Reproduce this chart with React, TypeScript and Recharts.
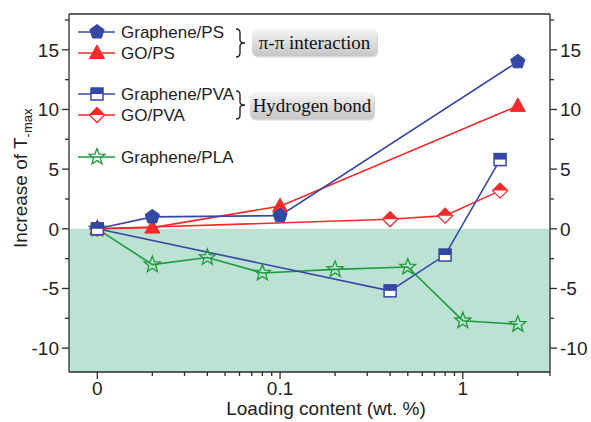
import React from 'react';
import {
  LineChart,
  Line,
  XAxis,
  YAxis,
  ReferenceArea,
  ReferenceLine,
  Legend,
} from 'recharts';

// 横軸 (wt. %) — 0 は対数軸の 0.01 の位置に置く
const psLoading = [0, 0.02, 0.1, 2];
const pvaLoading = [0, 0.4, 0.8, 1.6];
const plaLoading = [0, 0.02, 0.04, 0.08, 0.2, 0.5, 1, 2];

// 縦軸: Increase of T-max
const graphenePS = [0, 1.0, 1.1, 14.0];
const goPS = [0, 0.1, 1.9, 10.3];
const graphenePVA = [0, -5.2, -2.2, 5.8];
const goPVA = [0, 0.8, 1.1, 3.2];
const graphenePLA = [0, -3.0, -2.4, -3.7, -3.4, -3.2, -7.7, -8.0];

const xMajorTicks = [0.01, 0.1, 1];
const xMajorLabels = ['0', '0.1', '1'];
const xMinorTicks = [
  0.02, 0.03, 0.04, 0.05, 0.06, 0.07, 0.08, 0.09,
  0.2, 0.3, 0.4, 0.5, 0.6, 0.7, 0.8, 0.9, 2, 3,
];
const yMajorTicks = [-10, -5, 0, 5, 10, 15];
const yMinorTicks = [-7.5, -2.5, 2.5, 7.5, 12.5, 17.5];

const ZERO_POS = 0.01;
const AXIS = '#2b2b2b';
const BLUE = '#3447a4';
const RED = '#f42a2a';
const GREEN = '#1f9a3e';
const FONT = '"Liberation Sans", Arial, sans-serif';
const SERIF = '"Liberation Serif", "Times New Roman", serif';

const toPoints = (xs: number[], ys: number[]) =>
  xs.map((x, i) => ({ x: x === 0 ? ZERO_POS : x, y: ys[i] }));

type Kind = 'pentagon' | 'triangle' | 'halfSquare' | 'halfDiamond' | 'star';

const series: { name: string; color: string; kind: Kind; data: { x: number; y: number }[] }[] = [
  { name: 'Graphene/PLA', color: GREEN, kind: 'star', data: toPoints(plaLoading, graphenePLA) },
  { name: 'GO/PS', color: RED, kind: 'triangle', data: toPoints(psLoading, goPS) },
  { name: 'GO/PVA', color: RED, kind: 'halfDiamond', data: toPoints(pvaLoading, goPVA) },
  { name: 'Graphene/PS', color: BLUE, kind: 'pentagon', data: toPoints(psLoading, graphenePS) },
  { name: 'Graphene/PVA', color: BLUE, kind: 'halfSquare', data: toPoints(pvaLoading, graphenePVA) },
];

// 凡例の並び順と行の位置
const legendOrder = ['Graphene/PS', 'GO/PS', 'Graphene/PVA', 'GO/PVA', 'Graphene/PLA'];
const legendRowY = [32, 53, 94, 115, 157];

const polygon = (cx: number, cy: number, n: number, r: number, r2?: number) => {
  const pts: string[] = [];
  const count = r2 ? n * 2 : n;
  for (let i = 0; i < count; i++) {
    const a = -Math.PI / 2 + (i * Math.PI * 2) / count;
    const rr = r2 && i % 2 === 1 ? r2 : r;
    pts.push(`${cx + rr * Math.cos(a)},${cy + rr * Math.sin(a)}`);
  }
  return pts.join(' ');
};

function Marker({ kind, cx, cy, color }: { kind: Kind; cx: number; cy: number; color: string }) {
  if (kind === 'pentagon') {
    return <polygon points={polygon(cx, cy, 5, 7.5)} fill={color} stroke={color} strokeWidth={1} />;
  }
  if (kind === 'triangle') {
    return (
      <polygon
        points={`${cx},${cy - 8} ${cx - 7.5},${cy + 5.5} ${cx + 7.5},${cy + 5.5}`}
        fill={color}
        stroke={color}
        strokeWidth={1}
      />
    );
  }
  if (kind === 'halfSquare') {
    return (
      <g>
        <rect x={cx - 6} y={cy - 6} width={12} height={12} fill="#fff" />
        <rect x={cx - 6} y={cy - 6} width={12} height={6} fill={color} />
        <rect x={cx - 6} y={cy - 6} width={12} height={12} fill="none" stroke={color} strokeWidth={1.5} />
      </g>
    );
  }
  if (kind === 'halfDiamond') {
    const r = 7.5;
    return (
      <g>
        <polygon points={`${cx},${cy - r} ${cx + r},${cy} ${cx},${cy + r} ${cx - r},${cy}`} fill="#fff" />
        <polygon points={`${cx - r},${cy} ${cx},${cy - r} ${cx + r},${cy}`} fill={color} />
        <polygon
          points={`${cx},${cy - r} ${cx + r},${cy} ${cx},${cy + r} ${cx - r},${cy}`}
          fill="none"
          stroke={color}
          strokeWidth={1.3}
        />
      </g>
    );
  }
  return <polygon points={polygon(cx, cy, 5, 8.5, 3.6)} fill="none" stroke={color} strokeWidth={1.3} />;
}

const XTick = ({ x, y, payload }: any) => {
  const idx = xMajorTicks.indexOf(payload.value);
  const major = idx >= 0;
  return (
    <g>
      <line x1={x} x2={x} y1={y} y2={y + (major ? 7 : 4)} stroke={AXIS} strokeWidth={1.3} />
      {major && (
        <text x={x} y={y + 23} textAnchor="middle" fontSize={19} fontFamily={FONT} fill="#222">
          {xMajorLabels[idx]}
        </text>
      )}
    </g>
  );
};

const makeYTick = (side: 'left' | 'right') => ({ x, y, payload }: any) => {
  const major = yMajorTicks.includes(payload.value);
  const len = major ? 7 : 4;
  const dir = side === 'left' ? -1 : 1;
  return (
    <g>
      <line x1={x} x2={x + dir * len} y1={y} y2={y} stroke={AXIS} strokeWidth={1.3} />
      {major && (
        <text
          x={x + dir * 10}
          y={y + 7}
          textAnchor={side === 'left' ? 'end' : 'start'}
          fontSize={19}
          fontFamily={FONT}
          fill="#222"
        >
          {payload.value}
        </text>
      )}
    </g>
  );
};

const XTitle = () => (
  <text x={326} y={415} textAnchor="middle" fontSize={19} fontFamily={FONT} fill="#222">
    Loading content (wt. %)
  </text>
);

const YTitle = () => (
  <text
    x={27}
    y={248}
    transform="rotate(-90, 27, 248)"
    fontSize={19}
    fontFamily={FONT}
    fill="#222"
  >
    Increase of T
    <tspan fontSize={13} dy={5}>
      -max
    </tspan>
  </text>
);

const Brace = ({ x, top, bottom }: { x: number; top: number; bottom: number }) => {
  const mid = (top + bottom) / 2;
  return (
    <path
      d={`M${x},${top} Q${x + 4},${top} ${x + 4},${top + 4} L${x + 4},${mid - 3} Q${x + 4},${mid} ${x + 9},${mid}
          Q${x + 4},${mid} ${x + 4},${mid + 3} L${x + 4},${bottom - 4} Q${x + 4},${bottom} ${x},${bottom}`}
      fill="none"
      stroke="#222"
      strokeWidth={1.4}
    />
  );
};

const TagBox = ({ x, y, w, h, text }: { x: number; y: number; w: number; h: number; text: string }) => (
  <g>
    <rect x={x + 1} y={y + 1.5} width={w} height={h} rx={5} fill="#d8d8d8" />
    <rect x={x} y={y} width={w} height={h} rx={5} fill="url(#tagGrad)" />
    <text x={x + w / 2} y={y + h / 2 + 6} textAnchor="middle" fontSize={19} fontFamily={SERIF} fill="#111">
      {text}
    </text>
  </g>
);

const LegendPanel = () => (
  <svg width={591} height={180} style={{ display: 'block' }}>
    <defs>
      <linearGradient id="tagGrad" x1="0" y1="0" x2="0" y2="1">
        <stop offset="0" stopColor="#f5f5f5" />
        <stop offset="1" stopColor="#c6c6c6" />
      </linearGradient>
    </defs>
    {legendOrder.map((name, i) => {
      const s = series.find((d) => d.name === name)!;
      const y = legendRowY[i];
      return (
        <g key={name}>
          <line x1={78} x2={115} y1={y} y2={y} stroke={s.color} strokeWidth={1.6} />
          <Marker kind={s.kind} cx={97} cy={y} color={s.color} />
          <text x={121} y={y + 6} fontSize={17} fontFamily={FONT} fill="#222">
            {name}
          </text>
        </g>
      );
    })}
    <Brace x={236} top={29} bottom={57} />
    <Brace x={236} top={91} bottom={119} />
    <TagBox x={252} y={29} w={125} h={27} text="π-π interaction" />
    <TagBox x={250} y={92} w={124} h={27} text="Hydrogen bond" />
  </svg>
);

export default function App() {
  return (
    <div style={{ position: 'absolute', left: 0, top: 0, background: '#fff' }}>
      <LineChart width={591} height={422} margin={{ top: 14, right: 0, bottom: 0, left: 0 }}>
        <XAxis
          xAxisId="x"
          type="number"
          dataKey="x"
          scale="log"
          domain={[0.007, 3]}
          allowDataOverflow
          ticks={[...xMajorTicks, ...xMinorTicks]}
          interval={0}
          tick={<XTick />}
          tickLine={false}
          tickSize={0}
          tickMargin={0}
          height={50}
          axisLine={{ stroke: AXIS, strokeWidth: 1.3 }}
          label={<XTitle />}
        />
        <YAxis
          yAxisId="left"
          type="number"
          domain={[-12, 18]}
          allowDataOverflow
          ticks={[...yMajorTicks, ...yMinorTicks]}
          interval={0}
          tick={makeYTick('left')}
          tickLine={false}
          tickSize={0}
          tickMargin={0}
          width={69}
          axisLine={{ stroke: AXIS, strokeWidth: 1.3 }}
          label={<YTitle />}
        />
        <YAxis
          yAxisId="right"
          orientation="right"
          type="number"
          domain={[-12, 18]}
          allowDataOverflow
          ticks={[...yMajorTicks, ...yMinorTicks]}
          interval={0}
          tick={makeYTick('right')}
          tickLine={false}
          tickSize={0}
          tickMargin={0}
          width={41}
          axisLine={{ stroke: AXIS, strokeWidth: 1.3 }}
        />
        <ReferenceArea
          xAxisId="x"
          yAxisId="left"
          y1={-12}
          y2={0}
          fill="#bbe2d2"
          fillOpacity={1}
          stroke="none"
          ifOverflow="hidden"
        />
        <ReferenceLine xAxisId="x" yAxisId="left" y={18} stroke={AXIS} strokeWidth={1.3} />
        {series.map((s) => (
          <Line
            key={s.name}
            xAxisId="x"
            yAxisId="left"
            data={s.data}
            dataKey="y"
            name={s.name}
            type="linear"
            stroke={s.color}
            strokeWidth={1.6}
            isAnimationActive={false}
            dot={(p: any) => (
              <g key={`${s.name}-${p.index}`}>
                <Marker kind={s.kind} cx={p.cx} cy={p.cy} color={s.color} />
              </g>
            )}
          />
        ))}
        <Legend
          layout="vertical"
          align="center"
          verticalAlign="middle"
          content={<LegendPanel />}
          wrapperStyle={{ position: 'absolute', left: 0, top: 0, width: 591, height: 180 }}
        />
      </LineChart>
    </div>
  );
}
